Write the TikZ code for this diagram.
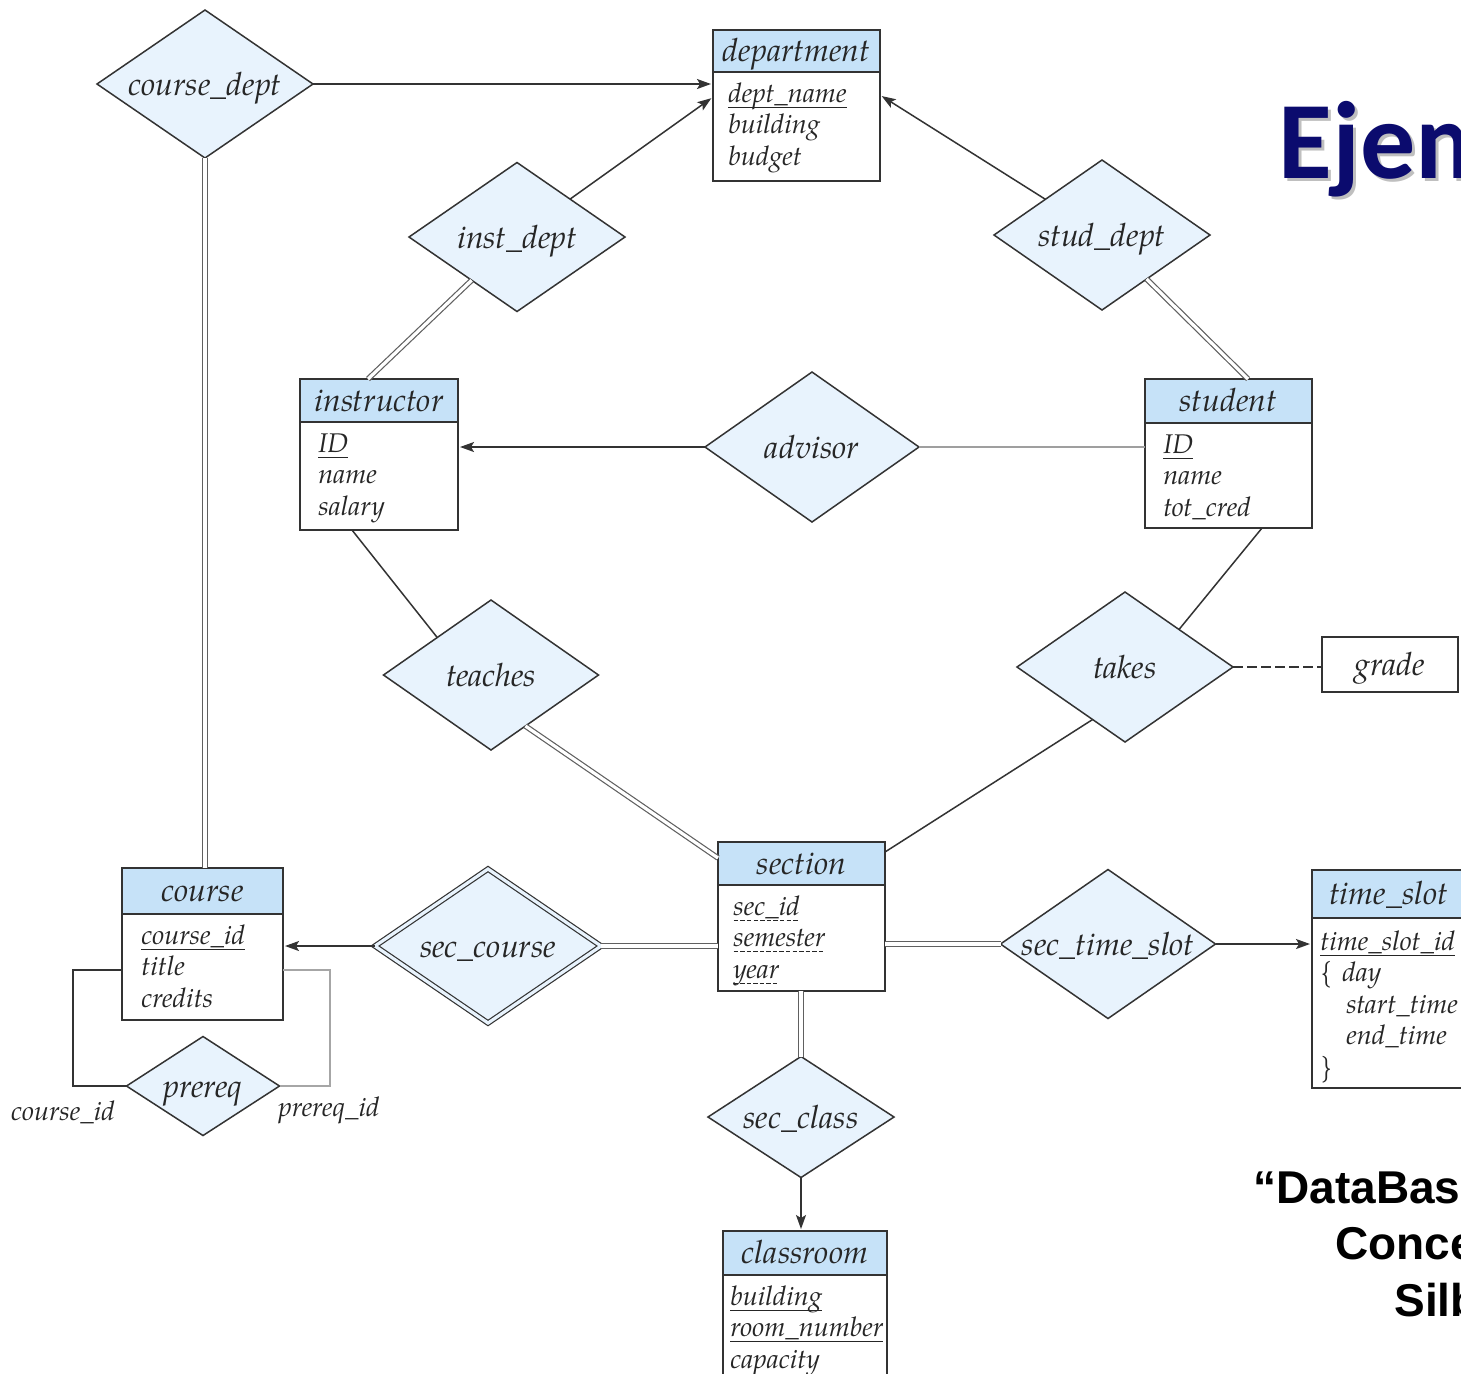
\documentclass[tikz,border=0pt]{standalone}
\usepackage{fontspec}
\usetikzlibrary{shapes.geometric,arrows.meta,calc,fit}
\newfontfamily\palit{TeX Gyre Pagella}
\newfontfamily\carl{Carlito}
\newfontfamily\arial{Liberation Sans}
\definecolor{hdrblue}{HTML}{C6E2F8}
\definecolor{relblue}{HTML}{E8F3FD}
\definecolor{ink}{HTML}{262626}
\definecolor{edge}{HTML}{333333}
\definecolor{titlenavy}{HTML}{0B0B6E}
% key attributes: solid underline; discriminators: dashed underline
\newsavebox\ulbox
\newcommand\ulin[1]{\sbox\ulbox{#1}\rlap{\raisebox{-2.6pt}{\rule{\wd\ulbox}{0.55pt}}}\usebox\ulbox}
\newcommand\dulin[1]{\sbox\ulbox{#1}\rlap{\raisebox{-2.6pt}{\hbox to \wd\ulbox{\xleaders\hbox{\rule{2.2pt}{0.55pt}\hspace{1pt}}\hfill}}}\usebox\ulbox}
\tikzset{
  hdrfont/.style={font=\palit\itshape\fontsize{16}{18}\selectfont},
  attrfont/.style={font=\palit\itshape\fontsize{13.5}{15.75}\selectfont},
  hdr/.style={draw=edge, line width=1pt, fill=hdrblue, inner sep=0pt, outer sep=0pt, text=ink, hdrfont, text height=13.5pt, text depth=3pt},
  body/.style={draw=edge, line width=1pt, fill=white, inner sep=0pt, outer sep=0pt},
  attrs/.style={anchor=north west, inner sep=0pt, align=left, text=ink, attrfont},
  rel/.style={diamond, draw=edge, line width=0.75pt, fill=relblue, inner sep=0pt, outer sep=0pt, text=ink, hdrfont, text height=14pt, text depth=2.8pt},
  link/.style={draw=edge, line width=0.75pt},
  arr/.style={link, -{Stealth[length=7pt,width=5pt,inset=1.5pt]}, shorten >=1pt},
  total/.style={draw=gray!75!black, line width=0.6pt, double=white, double distance=1.6pt},
  lbl/.style={inner sep=0pt, text=ink, attrfont},
}
\begin{document}
\begin{tikzpicture}[x=0.5pt,y=-0.5pt]
\useasboundingbox (0,0) rectangle (1461,1373);
\fill[white] (0,0) rectangle (1461,1373);
\clip (0,0) rectangle (1461,1373);

% ---------- entity sets: header, attribute box, attribute list ----------
\node[body, fit={(713,72)(880,181)}] (dept-b) {};
\node[hdr, minimum width=83.5pt, minimum height=21pt] (dept) at (796.5,51) {department};
\node[attrs] (dept-a) at (728,80) {\strut\ulin{dept\_name}\\building\\budget};

\node[body, fit={(300,422)(458,530)}] (inst-b) {};
\node[hdr, minimum width=79pt, minimum height=21.5pt] (inst) at (379,400.5) {instructor};
\node[attrs] (inst-a) at (318,430) {\strut\ulin{ID}\\name\\salary};

\node[body, fit={(1145,423)(1312,528)}] (stud-b) {};
\node[hdr, minimum width=83.5pt, minimum height=22pt] (stud) at (1228.5,401) {student};
\node[attrs] (stud-a) at (1163,431) {\strut\ulin{ID}\\name\\tot\_cred};

\node[body, fit={(718,885)(885,991)}] (sect-b) {};
\node[hdr, minimum width=83.5pt, minimum height=21.5pt] (sect) at (801.5,863.5) {section};
\node[attrs] (sect-a) at (733,893) {\strut\dulin{sec\_id}\\\dulin{semester}\\\dulin{year}};

\node[body, fit={(122,914)(283,1020)}] (crs-b) {};
\node[hdr, minimum width=80.5pt, minimum height=23pt] (crs) at (202.5,891) {course};
\node[attrs] (crs-a) at (141,922) {\strut\ulin{course\_id}\\title\\credits};

\node[body, fit={(1312,918)(1465,1088)}] (ts-b) {};
\node[hdr, minimum width=76.5pt, minimum height=24pt] (ts) at (1388.5,894) {time\_slot};
\node[attrs] (ts-a) at (1320,928) {\strut\ulin{time\_slot\_id}\\\{\hspace{5pt}day\\\hspace*{13pt}start\_time\\\hspace*{13pt}end\_time\\\}};

\node[body, fit={(723,1275)(887,1400)}] (cls-b) {};
\node[hdr, minimum width=82pt, minimum height=22pt] (cls) at (805,1253) {classroom};
\node[attrs] (cls-a) at (730,1283) {\strut\ulin{building}\\\ulin{room\_number}\\capacity};

% descriptive attribute of takes
\node[hdr, fill=white, minimum width=68pt, minimum height=27.5pt] (grade) at (1390,664.5) {grade};

% ---------- relationship sets ----------
\node[rel, minimum width=108pt, minimum height=74pt] (cd) at (205,84) {\makebox[0pt]{course\_dept}};
\node[rel, minimum width=108pt, minimum height=74.5pt] (id) at (517,237) {\makebox[0pt]{inst\_dept}};
\node[rel, minimum width=108pt, minimum height=75pt] (sd) at (1102,235) {\makebox[0pt]{stud\_dept}};
\node[rel, minimum width=107pt, minimum height=75pt] (adv) at (812,447) {\makebox[0pt]{advisor}};
\node[rel, minimum width=107.5pt, minimum height=75pt] (teach) at (491,675) {\makebox[0pt]{teaches}};
\node[rel, minimum width=108pt, minimum height=75pt] (takes) at (1125,667) {\makebox[0pt]{takes}};
\node[rel, minimum width=113pt, minimum height=77pt, double=relblue, double distance=1.6pt, line width=0.6pt] (sc) at (488,946) {\makebox[0pt]{sec\_course}};
\node[rel, minimum width=107.5pt, minimum height=74.5pt] (sts) at (1108,944) {\makebox[0pt]{sec\_time\_slot}};
\node[rel, minimum width=93pt, minimum height=60.5pt] (scl) at (801,1117) {\makebox[0pt]{sec\_class}};
\node[rel, minimum width=76.5pt, minimum height=49.5pt] (pre) at (203,1086) {\makebox[0pt]{prereq}};

% ---------- connectors ----------
\draw[arr] (cd.east) -- (cd.east -| dept-b.west);
\draw[total] (cd.south) -- (cd.south |- crs.north);
\draw[arr] (id) -- (dept-b.west |- 0,97);
\draw[total] (id) -- (368,0 |- inst.north);
\draw[arr] (sd) -- (dept-b.east |- 0,95);
\draw[total] (sd) -- (1248,0 |- stud.north);
\draw[arr] (adv.west) -- (adv.west -| inst-b.east);
\draw[draw=gray!75, line width=0.9pt] (adv.east) -- (adv.east -| stud-b.west);
\draw[link] (352,0 |- inst-b.south) -- (teach.north west);
\draw[total] ($(teach.south)!0.32!(teach.east)$) -- (sect.west |- 0,858);
\draw[link] (1262,0 |- stud-b.south) -- (takes.north east);
\draw[link] ($(takes.west)!0.7!(takes.south)$) -- (sect.east |- 0,852);
\draw[link, dash pattern=on 5pt off 2pt] (takes.east) -- (takes.east -| grade.west);
\draw[arr] (sc.west) -- (sc.west -| crs-b.east);
\draw[total] (sc.east) -- (sc.east -| sect-b.west);
\draw[total] (sts.west -| sect-b.east) -- (sts.west);
\draw[arr] (sts.east) -- (sts.east -| ts-b.west);
\draw[total] (scl.north |- sect-b.south) -- (scl.north);
\draw[arr] (scl.south) -- (scl.south |- cls.north);
\draw[link] (crs-b.west |- 0,970) -| (pre.west -| 73,0) -- (pre.west);
\draw[draw=gray!70, line width=1.2pt] (crs-b.east |- 0,970) -| (pre.east -| 330,0) -- (pre.east);
\node[lbl] (lbl-cid) at (63,1112) {course\_id};
\node[lbl] (lbl-pid) at (329,1110) {prereq\_id};

% ---------- slide title and reference ----------
\node[anchor=base west, inner sep=0pt, text=black, opacity=0.25, font=\carl\bfseries\fontsize{55}{60}\selectfont] (title-sh) at (1281,181) {Ejemplo};
\node[anchor=base west, inner sep=0pt, text=titlenavy, font=\carl\bfseries\fontsize{55}{60}\selectfont] (title) at (1278,178) {Ejemplo};
\node[anchor=base west, inner sep=0pt, font=\arial\bfseries\fontsize{23}{28}\selectfont] (cite1) at (1253,1203) {“DataBase System};
\node[anchor=base west, inner sep=0pt, font=\arial\bfseries\fontsize{23}{28}\selectfont] (cite2) at (1335,1259) {Concepts”,};
\node[anchor=base west, inner sep=0pt, font=\arial\bfseries\fontsize{23}{28}\selectfont] (cite3) at (1394,1316) {Silberschatz};
\end{tikzpicture}
\end{document}
